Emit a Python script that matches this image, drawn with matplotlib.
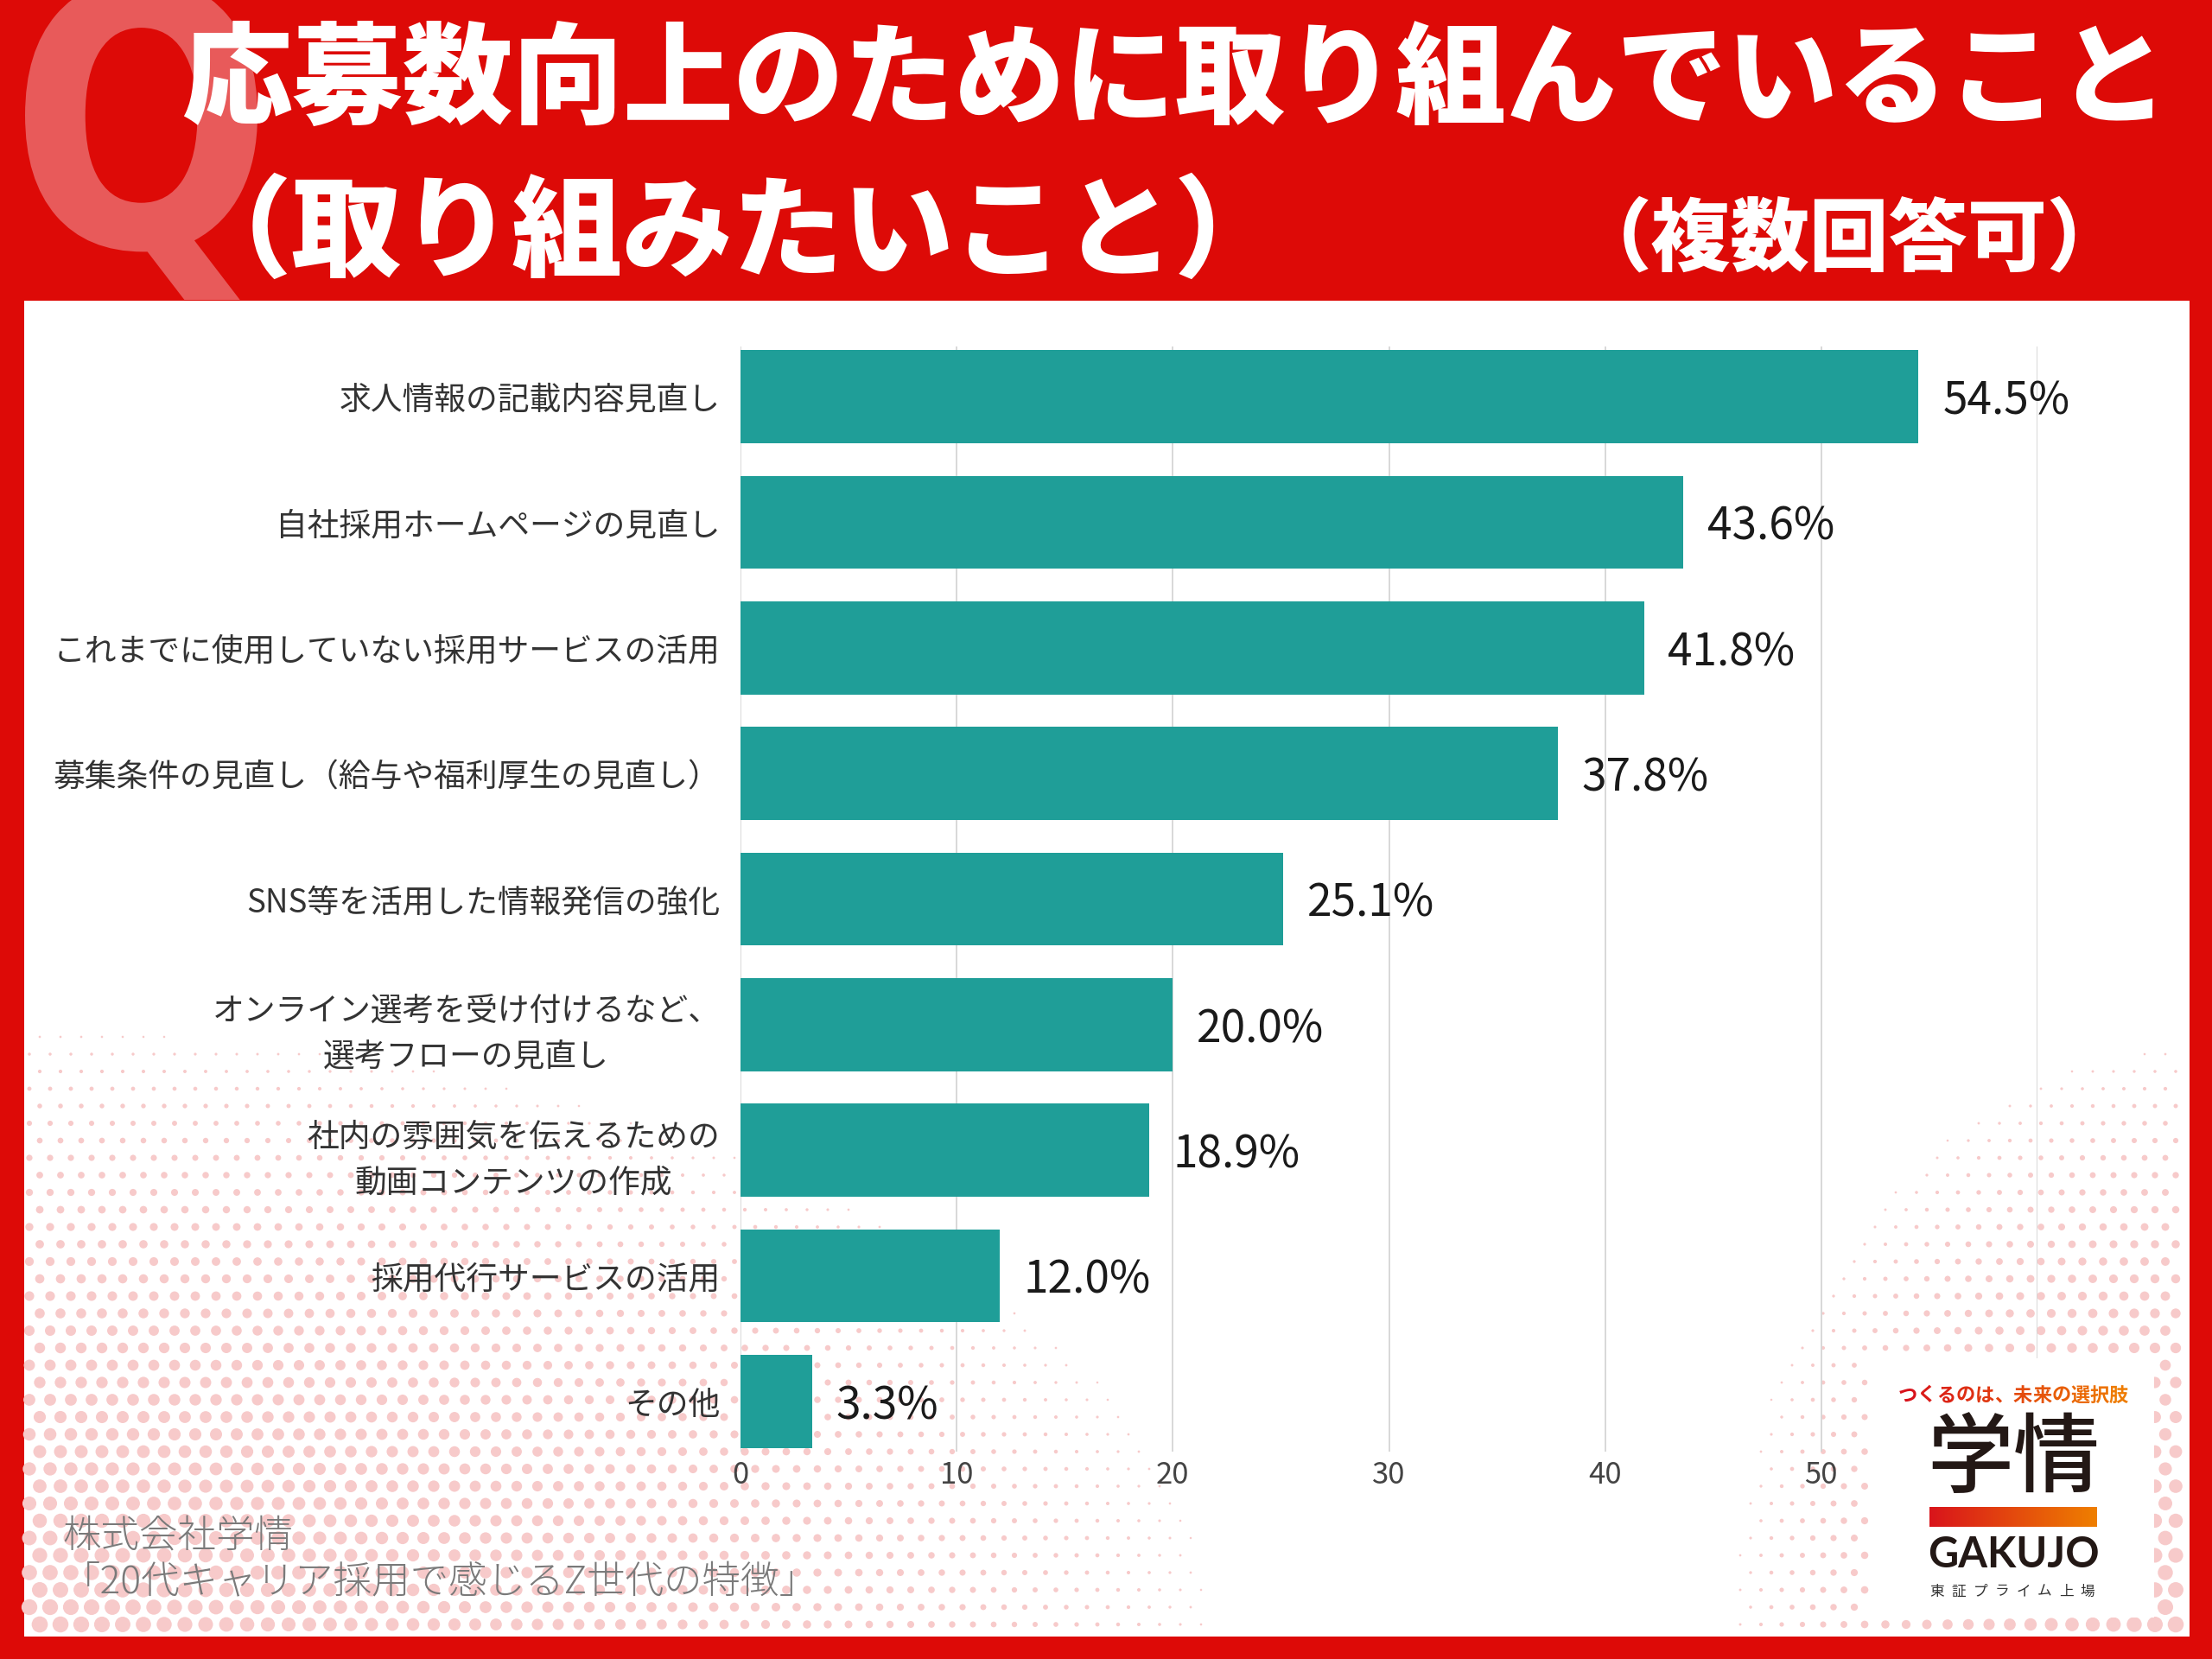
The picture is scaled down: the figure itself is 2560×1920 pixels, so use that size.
import numpy as np
import matplotlib
matplotlib.use("Agg")
import matplotlib.pyplot as plt
from matplotlib.patches import Rectangle, PathPatch
from matplotlib.textpath import TextPath
from matplotlib.font_manager import FontProperties
from matplotlib.transforms import Affine2D
from matplotlib.colors import LinearSegmentedColormap, to_rgb

plt.rcParams['font.family'] = ['Noto Sans CJK JP', 'DejaVu Sans']

# data
categories = [
    "求人情報の記載内容見直し",
    "自社採用ホームページの見直し",
    "これまでに使用していない採用サービスの活用",
    "募集条件の見直し（給与や福利厚生の見直し）",
    "SNS等を活用した情報発信の強化",
    "オンライン選考を受け付けるなど、\n選考フローの見直し",
    "社内の雰囲気を伝えるための\n動画コンテンツの作成",
    "採用代行サービスの活用",
    "その他",
]
values = [54.5, 43.6, 41.8, 37.8, 25.1, 20.0, 18.9, 12.0, 3.3]
value_labels = ["54.5%", "43.6%", "41.8%", "37.8%", "25.1%", "20.0%", "18.9%", "12.0%", "3.3%"]
xticks = [0, 10, 20, 30, 40, 50, 60]
xtick_labels = ["0", "10", "20", "30", "40", "50", ""]  # 60 sits under the logo

title1 = "応募数向上のために取り組んでいること"
title2 = "（取り組みたいこと）"
title3 = "（複数回答可）"
source1 = "株式会社学情"
source2 = "「20代キャリア採用で感じるZ世代の特徴」"
tagline = "つくるのは、未来の選択肢"
listing = "東証プライム上場"

RED = '#DD0A07'
TEAL = '#1F9E98'
W, H = 2560, 1920

fig = plt.figure(figsize=(25.6, 19.2), dpi=100, facecolor=RED)

# background layer in pixel coordinates
bg = fig.add_axes([0, 0, 1, 1], zorder=0)
bg.set_xlim(0, W)
bg.set_ylim(H, 0)
bg.axis('off')

# big pale Q
qp = TextPath((0, 0), "Q", size=100, prop=FontProperties(family='DejaVu Sans', weight='bold'))
ext = qp.get_extents()
sx = (298 - 29) / ext.width
sy = (347 + 25) / ext.height
tr = Affine2D().translate(-ext.x0, -ext.y1).scale(sx, -sy).translate(29, -25)
bg.add_patch(PathPatch(tr.transform_path(qp), color='#E85A5A', lw=0, zorder=1))

# white panel
bg.add_patch(Rectangle((28, 348), 2506, 1546, color='white', lw=0, zorder=2))

# halftone dots
gx, gy = np.meshgrid(np.arange(34, 2534, 24), np.arange(900, 1894, 20))
gx = gx + (np.arange(gy.shape[0])[:, None] % 2) * 12
left = 1 - np.hypot((gx - 28) / 1450, (1894 - gy) / 740)
right = 1 - np.hypot((2534 - gx) / 560, (1894 - gy) / 720)
f = np.clip(np.maximum(left, right), 0, None)
d = 19 * f ** 0.7
m = (d > 2.5) & (gx < 2530)
bg.scatter(gx[m], gy[m], s=(d[m] * 0.72) ** 2, color='#F7CACA', lw=0, zorder=3)

# titles
bg.text(210, 95, title1, fontsize=92, weight='black', color='white', va='center', ha='left', zorder=5)
bg.text(210, 272, title2, fontsize=92, weight='black', color='white', va='center', ha='left', zorder=5)
bg.text(1820, 278, title3, fontsize=66, weight='black', color='white', va='center', ha='left', zorder=5)

# main chart
ax = fig.add_axes([857 / W, 1 - 1680 / H, (2358 - 857) / W, (1680 - 401) / H], zorder=2)
ax.patch.set_alpha(0)
y = np.arange(len(categories))
ax.barh(y, values, height=0.74, color=TEAL, zorder=3)
for i, (v, lbl) in enumerate(zip(values, value_labels)):
    ax.annotate(lbl, (v, i), xytext=(20, -4), textcoords='offset points',
                va='center', ha='left', fontsize=37, color='#1a1a1a', zorder=4)
ax.set_xlim(0, 60)
ax.set_ylim(len(categories) - 0.6, -0.4)
ax.set_xticks(xticks)
ax.set_xticklabels(xtick_labels, fontsize=25, color='#444444')
ax.set_yticks(y)
ax.set_yticklabels(categories, fontsize=26.5, color='#333333')
for lab in ax.get_yticklabels():
    lab.set_multialignment('center')
    lab.set_linespacing(1.45)
ax.tick_params(axis='both', length=0)
ax.tick_params(axis='y', pad=17)
ax.tick_params(axis='x', pad=7)
ax.grid(axis='x', color='#D5D5D5', lw=1.3, zorder=0)
ax.set_axisbelow(True)
for s in ax.spines.values():
    s.set_visible(False)

# overlay: logo + source
ov = fig.add_axes([0, 0, 1, 1], zorder=3)
ov.patch.set_alpha(0)
ov.axis('off')

ov.text(72, 1778, source1, fontsize=32, color='#7A7A7A', va='center', ha='left', weight='light')
ov.text(72, 1832, source2, fontsize=32, color='#7A7A7A', va='center', ha='left', weight='light')

ov.add_patch(Rectangle((2165, 1572), 328, 300, color='white', lw=0, zorder=1))
c0, c1 = np.array(to_rgb('#D8121B')), np.array(to_rgb('#EE7B00'))
tx = np.linspace(2197 + 11, 2463 - 11, len(tagline))
for k, (ch, xx) in enumerate(zip(tagline, tx)):
    t = k / (len(tagline) - 1)
    ov.text(xx, 1615, ch, fontsize=16, weight='bold', color=c0 * (1 - t) + c1 * t,
            ha='center', va='center', zorder=2)
ov.text(2330, 1690, "学情", fontsize=72, weight='medium', color='#231815',
        ha='center', va='center', zorder=2)
grad = LinearSegmentedColormap.from_list('g', ['#D9141B', '#EF7F00'])
ov.imshow(np.linspace(0, 1, 256)[None, :], extent=(2233, 2427, 1767, 1744), cmap=grad,
          aspect='auto', zorder=2)
ov.text(2330, 1799, "GAKUJO", fontsize=35, weight='bold', family='Lato', color='#231815',
        ha='center', va='center', zorder=2)
lx = np.linspace(2233 + 9, 2425 - 9, len(listing))
for ch, xx in zip(listing, lx):
    ov.text(xx, 1842, ch, fontsize=12, color='#333333', ha='center', va='center', zorder=2)
ov.set_xlim(0, W)
ov.set_ylim(H, 0)

fig.savefig('out.png', dpi=100, facecolor=RED)
